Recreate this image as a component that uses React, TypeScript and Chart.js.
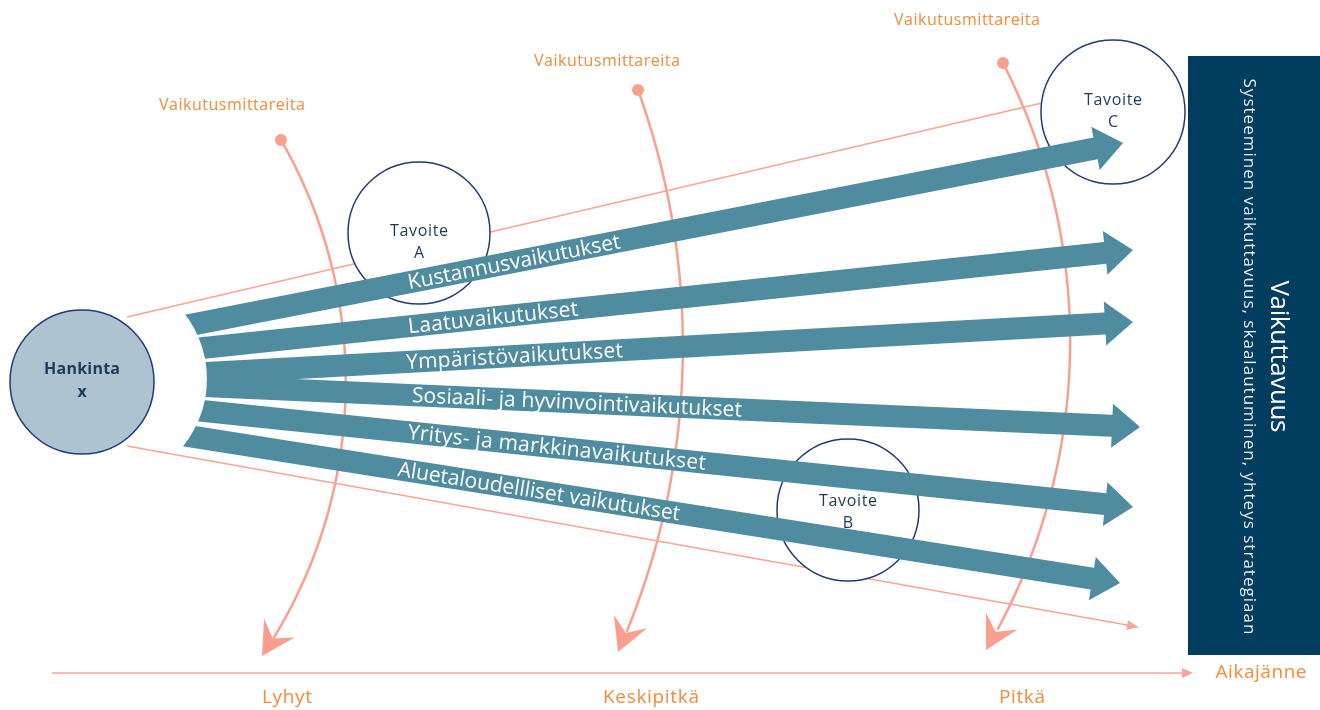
import React, { useEffect, useRef } from "react";
import { Chart, registerables } from "chart.js";

Chart.register(...registerables);

const W = 1320;
const H = 710;

// ---- Impact arrows (vaikutukset) ----
const arrowLabels = [
  "Kustannusvaikutukset",
  "Laatuvaikutukset",
  "Ympäristövaikutukset",
  "Sosiaali- ja hyvinvointivaikutukset",
  "Yritys- ja markkinavaikutukset",
  "Aluetaloudellliset vaikutukset",
];
const arrowStartX = [190, 203, 205, 205, 203, 195];
const arrowStartY = [325, 348, 373, 386, 411, 437];
const arrowTipX = [1123, 1133, 1133, 1140, 1133, 1120];
const arrowTipY = [143, 250, 322, 427, 507, 583];
const arrowLabelX = [408, 408, 406, 412, 408, 398];
const arrowLabelEndX = [620, 578, 623, 742, 706, 680];

// ---- Goal circles ----
const goalTitle = "Tavoite";
const goalLetters = ["A", "B", "C"];
const goalX = [419, 848, 1113];
const goalY = [233, 510, 112];
const goalR = [71, 71, 72];
const goalTextY = [231, 501, 100];

// ---- Source (Hankinta) ----
const sourceLines = ["Hankinta", "x"];
const sourceX = [82];
const sourceY = [382];
const sourceR = [72];
const fanCutX = [101];
const fanCutY = [379];
const fanCutR = [106];

// ---- Measurement curves (Vaikutusmittareita) ----
const meterLabel = "Vaikutusmittareita";
const meterStartX = [281, 638, 1003];
const meterStartY = [140, 90, 63];
const meterC1X = [374, 704, 1098];
const meterC1Y = [301, 273, 249];
const meterC2X = [366, 697, 1092];
const meterC2Y = [502, 474, 470];
const meterEndX = [262, 618, 986];
const meterEndY = [656, 652, 650];
const meterLabelX = [232, 607, 967];
const meterLabelY = [105, 61, 20];

// ---- Funnel boundary lines ----
const funnelX0 = [127, 127];
const funnelY0 = [317, 446];
const funnelX1 = [1042, 1138];
const funnelY1 = [103, 627];
const funnelHasHead = [false, true];

// ---- Time axis ----
const timeLabels = ["Lyhyt", "Keskipitkä", "Pitkä"];
const timeLabelX = [287, 651, 1022];
const timeLabelY = [698];
const timeAxisY = [673];
const timeAxisX0 = [52];
const timeAxisX1 = [1193];
const timeAxisTitle = "Aikajänne";
const timeAxisTitleX = [1261];

// ---- Impact box ----
const boxX0 = [1188];
const boxX1 = [1320];
const boxY0 = [56];
const boxY1 = [655];
const boxTitle = "Vaikuttavuus";
const boxSubtitle = "Systeeminen vaikuttavuus, skaalautuminen, yhteys strategiaan";

const TEAL = "#508ca0";
const NAVY = "#003d5e";
const SALMON = "#fa9f90";
const SALMON_LIGHT = "#f8a597";
const ORANGE = "#f28b3a";
const OUTLINE = "#23397a";
const DARKTEXT = "#1c3a5a";
const FONT = "'Open Sans', Lato, sans-serif";

function bez(p0: number, p1: number, p2: number, p3: number, t: number) {
  const u = 1 - t;
  return u * u * u * p0 + 3 * u * u * t * p1 + 3 * u * t * t * p2 + t * t * t * p3;
}

// draw text spread with letter spacing so that it spans the given width
function fitText(ctx: any, text: string, x: number, y: number, width: number) {
  ctx.letterSpacing = "0px";
  const w = ctx.measureText(text).width;
  const ls = (width - w) / Math.max(1, text.length - 1);
  ctx.letterSpacing = `${ls.toFixed(2)}px`;
  if (ctx.textAlign === "center") {
    ctx.textAlign = "left";
    ctx.fillText(text, x - width / 2, y);
    ctx.textAlign = "center";
  } else {
    ctx.fillText(text, x, y);
  }
  ctx.letterSpacing = "0px";
}

const diagramPlugin = {
  id: "diagram",
  beforeDatasetsDraw(chart: any) {
    const ctx: CanvasRenderingContext2D = chart.ctx;
    const xs = chart.scales.x;
    const ys = chart.scales.y;
    const px = (v: number) => xs.getPixelForValue(v);
    const py = (v: number) => ys.getPixelForValue(v);
    const pr = (v: number) => Math.abs(xs.getPixelForValue(v) - xs.getPixelForValue(0));

    ctx.save();

    // Measurement curves
    for (let i = 0; i < meterStartX.length; i++) {
      const x0 = px(meterStartX[i]), y0 = py(meterStartY[i]);
      const x1 = px(meterC1X[i]), y1 = py(meterC1Y[i]);
      const x2 = px(meterC2X[i]), y2 = py(meterC2Y[i]);
      const x3 = px(meterEndX[i]), y3 = py(meterEndY[i]);
      const t0 = 0.93;
      const bx = bez(x0, x1, x2, x3, t0), by = bez(y0, y1, y2, y3, t0);
      let dx = x3 - bx, dy = y3 - by;
      const dl = Math.hypot(dx, dy);
      dx /= dl; dy /= dl;
      const nx = -dy, ny = dx;
      const L = 33, hw = 18;
      ctx.strokeStyle = SALMON;
      ctx.lineWidth = 2.5;
      ctx.beginPath();
      ctx.moveTo(x0, y0);
      const steps = 80;
      for (let s = 1; s <= steps; s++) {
        const t = s / steps;
        const x = bez(x0, x1, x2, x3, t), y = bez(y0, y1, y2, y3, t);
        if (Math.hypot(x - x3, y - y3) < L * 0.6) break;
        ctx.lineTo(x, y);
      }
      ctx.stroke();
      ctx.fillStyle = SALMON;
      ctx.beginPath();
      ctx.moveTo(x3, y3);
      ctx.lineTo(x3 - dx * L + nx * hw, y3 - dy * L + ny * hw);
      ctx.lineTo(x3 - dx * L * 0.62, y3 - dy * L * 0.62);
      ctx.lineTo(x3 - dx * L - nx * hw, y3 - dy * L - ny * hw);
      ctx.closePath();
      ctx.fill();
    }

    // Funnel boundary lines
    for (let i = 0; i < funnelX0.length; i++) {
      const x0 = px(funnelX0[i]), y0 = py(funnelY0[i]);
      const x1 = px(funnelX1[i]), y1 = py(funnelY1[i]);
      ctx.strokeStyle = SALMON_LIGHT;
      ctx.lineWidth = 1.5;
      ctx.beginPath();
      ctx.moveTo(x0, y0);
      ctx.lineTo(x1, y1);
      ctx.stroke();
      if (funnelHasHead[i]) {
        let dx = x1 - x0, dy = y1 - y0;
        const dl = Math.hypot(dx, dy);
        dx /= dl; dy /= dl;
        const nx = -dy, ny = dx;
        ctx.fillStyle = SALMON_LIGHT;
        ctx.beginPath();
        ctx.moveTo(x1, y1);
        ctx.lineTo(x1 - dx * 11 + nx * 5, y1 - dy * 11 + ny * 5);
        ctx.lineTo(x1 - dx * 11 - nx * 5, y1 - dy * 11 - ny * 5);
        ctx.closePath();
        ctx.fill();
      }
    }

    // Time axis
    {
      const y = py(timeAxisY[0]);
      const x0 = px(timeAxisX0[0]), x1 = px(timeAxisX1[0]);
      ctx.strokeStyle = SALMON_LIGHT;
      ctx.lineWidth = 1.5;
      ctx.beginPath();
      ctx.moveTo(x0, y);
      ctx.lineTo(x1 - 4, y);
      ctx.stroke();
      ctx.fillStyle = SALMON_LIGHT;
      ctx.beginPath();
      ctx.moveTo(x1, y);
      ctx.lineTo(x1 - 11, y - 5);
      ctx.lineTo(x1 - 11, y + 5);
      ctx.closePath();
      ctx.fill();
    }

    // Goal circles
    for (let i = 0; i < goalX.length; i++) {
      const cx = px(goalX[i]), cy = py(goalY[i]), r = pr(goalR[i]);
      ctx.beginPath();
      ctx.arc(cx, cy, r, 0, Math.PI * 2);
      ctx.fillStyle = "#ffffff";
      ctx.fill();
      ctx.strokeStyle = OUTLINE;
      ctx.lineWidth = 1.5;
      ctx.stroke();
    }

    // Impact arrows (clipped by the concave arc at the source)
    ctx.save();
    ctx.beginPath();
    ctx.rect(0, 0, chart.width, chart.height);
    ctx.arc(px(fanCutX[0]), py(fanCutY[0]), pr(fanCutR[0]), 0, Math.PI * 2, true);
    ctx.clip("evenodd");
    for (let i = 0; i < arrowStartX.length; i++) {
      const x0 = px(arrowStartX[i]) - 30, y0s = py(arrowStartY[i]);
      const xt = px(arrowTipX[i]), yt = py(arrowTipY[i]);
      let dx = xt - px(arrowStartX[i]), dy = yt - y0s;
      const dl = Math.hypot(dx, dy);
      dx /= dl; dy /= dl;
      const y0 = y0s - (dy / dx) * 30;
      const nx = -dy, ny = dx;
      const hw = 11, hh = 22, L = 28;
      const bx = xt - dx * L, by = yt - dy * L;
      ctx.fillStyle = TEAL;
      ctx.beginPath();
      ctx.moveTo(x0 + nx * hw, y0 + ny * hw);
      ctx.lineTo(bx + nx * hw, by + ny * hw);
      ctx.lineTo(bx + nx * hh, by + ny * hh);
      ctx.lineTo(xt, yt);
      ctx.lineTo(bx - nx * hh, by - ny * hh);
      ctx.lineTo(bx - nx * hw, by - ny * hw);
      ctx.lineTo(x0 - nx * hw, y0 - ny * hw);
      ctx.closePath();
      ctx.fill();
    }
    ctx.restore();

    // Arrow labels
    for (let i = 0; i < arrowStartX.length; i++) {
      const xs0 = px(arrowStartX[i]), ys0 = py(arrowStartY[i]);
      const xt = px(arrowTipX[i]), yt = py(arrowTipY[i]);
      const ang = Math.atan2(yt - ys0, xt - xs0);
      const lx = px(arrowLabelX[i]);
      const t = (lx - xs0) / (xt - xs0);
      const ly = ys0 + (yt - ys0) * t;
      const span = (px(arrowLabelEndX[i]) - lx) / Math.cos(ang);
      ctx.save();
      ctx.translate(lx, ly);
      ctx.rotate(ang);
      ctx.fillStyle = "#ffffff";
      ctx.font = `21px ${FONT}`;
      ctx.textAlign = "left";
      ctx.textBaseline = "alphabetic";
      fitText(ctx, arrowLabels[i], 0, 7, span);
      ctx.restore();
    }

    // Goal texts
    for (let i = 0; i < goalX.length; i++) {
      const cx = px(goalX[i]), ty = py(goalTextY[i]);
      ctx.fillStyle = DARKTEXT;
      ctx.font = `16px ${FONT}`;
      ctx.textAlign = "center";
      ctx.textBaseline = "middle";
      fitText(ctx, goalTitle, cx, ty, 58);
      ctx.fillText(goalLetters[i], cx, ty + 22);
    }

    // Source circle
    {
      const cx = px(sourceX[0]), cy = py(sourceY[0]), r = pr(sourceR[0]);
      ctx.beginPath();
      ctx.arc(cx, cy, r, 0, Math.PI * 2);
      ctx.fillStyle = "#adc4d0";
      ctx.fill();
      ctx.strokeStyle = OUTLINE;
      ctx.lineWidth = 1.5;
      ctx.stroke();
      ctx.fillStyle = DARKTEXT;
      ctx.font = `bold 16px ${FONT}`;
      ctx.textAlign = "center";
      ctx.textBaseline = "middle";
      fitText(ctx, sourceLines[0], cx, cy - 13, 76);
      ctx.fillText(sourceLines[1], cx, cy + 10);
    }

    // Impact box
    {
      const x0 = px(boxX0[0]), x1 = px(boxX1[0]);
      const y0 = py(boxY0[0]), y1 = py(boxY1[0]);
      ctx.fillStyle = NAVY;
      ctx.fillRect(x0, y0, x1 - x0, y1 - y0);
      const cy = (y0 + y1) / 2 + 1;
      ctx.save();
      ctx.translate(x0 + 90, cy);
      ctx.rotate(Math.PI / 2);
      ctx.fillStyle = "#ffffff";
      ctx.textAlign = "center";
      ctx.textBaseline = "middle";
      ctx.font = `26px ${FONT}`;
      fitText(ctx, boxTitle, 0, 0, 152);
      ctx.restore();
      ctx.save();
      ctx.translate(x0 + 61, cy);
      ctx.rotate(Math.PI / 2);
      ctx.fillStyle = "#e9eef2";
      ctx.textAlign = "center";
      ctx.textBaseline = "middle";
      ctx.font = `17px ${FONT}`;
      fitText(ctx, boxSubtitle, 0, 0, 556);
      ctx.restore();
    }

    // Orange labels
    ctx.fillStyle = ORANGE;
    ctx.textAlign = "center";
    ctx.textBaseline = "middle";
    ctx.font = `16px ${FONT}`;
    for (let i = 0; i < meterLabelX.length; i++) {
      fitText(ctx, meterLabel, px(meterLabelX[i]), py(meterLabelY[i]), 146);
    }
    ctx.font = `19px ${FONT}`;
    const timeWidths = [50, 96, 46];
    for (let i = 0; i < timeLabels.length; i++) {
      fitText(ctx, timeLabels[i], px(timeLabelX[i]), py(timeLabelY[0]), timeWidths[i]);
    }
    fitText(ctx, timeAxisTitle, px(timeAxisTitleX[0]), py(timeAxisY[0]), 91);

    ctx.restore();
  },
};

export default function App() {
  const ref = useRef<HTMLCanvasElement | null>(null);
  useEffect(() => {
    if (!ref.current) return;
    const chart = new Chart(ref.current, {
      type: "scatter",
      data: {
        datasets: [
          {
            data: meterStartX.map((x, i) => ({ x, y: meterStartY[i] })),
            pointRadius: 6,
            pointBackgroundColor: SALMON,
            pointBorderWidth: 0,
            showLine: false,
            clip: false,
          },
        ],
      },
      options: {
        responsive: false,
        animation: false,
        events: [],
        layout: { padding: 0, autoPadding: false },
        scales: {
          x: { type: "linear", min: 0, max: W, display: false },
          y: { type: "linear", min: 0, max: H, reverse: true, display: false },
        },
        plugins: { legend: { display: false }, tooltip: { enabled: false } },
      },
      plugins: [diagramPlugin],
    });
    return () => chart.destroy();
  }, []);
  return (
    <div style={{ position: "absolute", left: 0, top: 0, width: W, height: H, background: "#fff" }}>
      <canvas ref={ref} width={W} height={H} style={{ display: "block" }} />
    </div>
  );
}
